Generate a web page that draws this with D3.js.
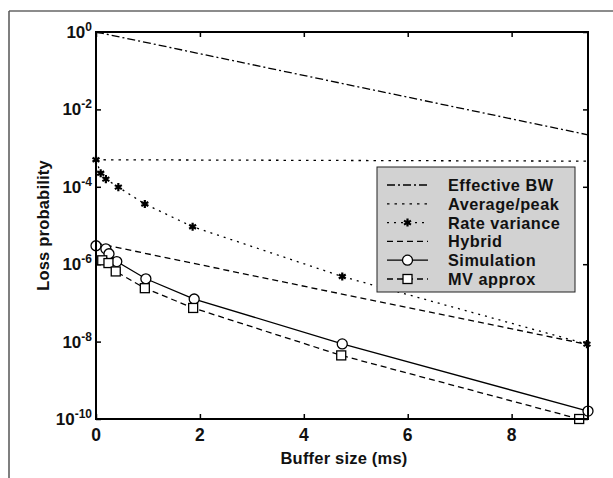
<!DOCTYPE html>
<html>
<head>
<meta charset="utf-8">
<script src="https://cdn.jsdelivr.net/npm/d3@7/dist/d3.min.js"></script>
<style>
  html, body { margin: 0; padding: 0; background: #fff; }
  svg { display: block; }
  text { font-family: "Liberation Sans", Arial, sans-serif; fill: #111; font-weight: bold; }
</style>
</head>
<body>
<svg id="chart" width="613" height="478"></svg>
<script>
// ---- Data ----
const effBwX = [0, 9.47];
const effBwY = [1.0, 2.2e-3];

const avgPeakX = [0, 9.47];
const avgPeakY = [5.0e-4, 4.6e-4];

const rateVarX = [0, 0.09, 0.19, 0.43, 0.94, 1.86, 4.74, 9.45];
const rateVarY = [5.0e-4, 2.24e-4, 1.58e-4, 9.8e-5, 3.6e-5, 9.3e-6, 4.8e-7, 8.6e-9];

const hybridX = [0, 4.12, 9.45];
const hybridY = [3.5e-6, 2.5e-7, 8.5e-9];

const simX = [0, 0.19, 0.25, 0.40, 0.96, 1.89, 4.74, 9.47];
const simY = [3.0e-6, 2.5e-6, 1.86e-6, 1.17e-6, 4.2e-7, 1.26e-7, 8.7e-9, 1.6e-10];

const mvX = [0.12, 0.24, 0.38, 0.94, 1.87, 4.72, 9.3];
const mvY = [1.26e-6, 1.07e-6, 6.5e-7, 2.4e-7, 7.4e-8, 4.4e-9, 1.0e-10];

const xTicks = [0, 2, 4, 6, 8];
const yTickExps = [0, -2, -4, -6, -8, -10];

const legendLabels = ["Effective BW", "Average/peak", "Rate variance", "Hybrid", "Simulation", "MV approx"];

const xLabel = "Buffer size (ms)";
const yLabel = "Loss probability";

// ---- Layout ----
const svg = d3.select("#chart");
const L = 96, R = 588, T = 32, B = 419;

const x = d3.scaleLinear().domain([0, 9.47]).range([L, R]);
const y = d3.scaleLog().domain([1e-10, 1]).range([B, T]);

// outer scan frame (top and left)
svg.append("line").attr("x1", 9).attr("y1", 11).attr("x2", 613).attr("y2", 11)
  .attr("stroke", "#666").attr("stroke-width", 1.5);
svg.append("line").attr("x1", 9).attr("y1", 11).attr("x2", 9).attr("y2", 478)
  .attr("stroke", "#555").attr("stroke-width", 1.5);

// axes with inward ticks
const yTickVals = yTickExps.map(e => Math.pow(10, e));
svg.append("g").attr("transform", `translate(${L},0)`)
  .call(d3.axisRight(y).tickValues(yTickVals).tickSize(5).tickFormat(""))
  .call(g => g.select(".domain").remove());
svg.append("g").attr("transform", `translate(${R},0)`)
  .call(d3.axisLeft(y).tickValues(yTickVals).tickSize(5).tickFormat(""))
  .call(g => g.select(".domain").remove());
svg.append("g").attr("transform", `translate(0,${B})`)
  .call(d3.axisTop(x).tickValues(xTicks).tickSize(5).tickFormat(""))
  .call(g => g.select(".domain").remove());
svg.append("g").attr("transform", `translate(0,${T})`)
  .call(d3.axisBottom(x).tickValues(xTicks).tickSize(5).tickFormat(""))
  .call(g => g.select(".domain").remove());
svg.selectAll(".tick line").attr("stroke", "#000").attr("stroke-width", 1.5);

// tick labels
const yl = svg.append("g");
yTickExps.forEach(e => {
  const t = yl.append("text")
    .attr("x", 92).attr("y", y(Math.pow(10, e)) + 6)
    .attr("text-anchor", "end")
    .style("font-size", "17px");
  t.append("tspan").text("10");
  t.append("tspan").attr("dy", -7).style("font-size", "12px").text(e === 0 ? "0" : "-" + (-e));
});
svg.append("g").selectAll("text").data(xTicks).join("text")
  .attr("x", d => x(d)).attr("y", B + 22)
  .attr("text-anchor", "middle")
  .style("font-size", "17.5px")
  .text(d => d);

// axis titles
svg.append("text").attr("x", 344).attr("y", 464)
  .attr("text-anchor", "middle")
  .style("font-size", "16.5px").style("letter-spacing", "0.2px")
  .text(xLabel);
svg.append("text")
  .attr("transform", `translate(49,${(T + B) / 2}) rotate(-90)`)
  .attr("text-anchor", "middle")
  .style("font-size", "16.5px").style("letter-spacing", "0.2px")
  .text(yLabel);

// ---- Series ----
const line = d3.line().x(d => x(d[0])).y(d => y(d[1]));
const zip = (a, b) => a.map((v, i) => [v, b[i]]);

const series = [
  { xs: effBwX, ys: effBwY, dash: "8,3,2,3", marker: null },
  { xs: avgPeakX, ys: avgPeakY, dash: "2.5,5", marker: null },
  { xs: rateVarX, ys: rateVarY, dash: "2,5", marker: "star" },
  { xs: hybridX, ys: hybridY, dash: "6,4", marker: null },
  { xs: simX, ys: simY, dash: null, marker: "circle" },
  { xs: mvX, ys: mvY, dash: "6,4", marker: "square" }
];

const plot = svg.append("g");
function drawMarker(g, type, cx, cy) {
  if (type === "circle") {
    g.append("circle").attr("cx", cx).attr("cy", cy).attr("r", 5)
      .attr("fill", "#fff").attr("stroke", "#000").attr("stroke-width", 1.3);
  } else if (type === "square") {
    g.append("rect").attr("x", cx - 4.5).attr("y", cy - 4.5).attr("width", 9).attr("height", 9)
      .attr("fill", "#fff").attr("stroke", "#000").attr("stroke-width", 1.3);
  } else if (type === "star") {
    g.append("path").attr("transform", `translate(${cx},${cy})`)
      .attr("d", d3.symbol(d3.symbolAsterisk, 45)())
      .attr("fill", "none").attr("stroke", "#000").attr("stroke-width", 2.2);
  }
}
series.forEach(s => {
  const pts = zip(s.xs, s.ys);
  plot.append("path").datum(pts).attr("d", line)
    .attr("fill", "none").attr("stroke", "#000").attr("stroke-width", 1.3)
    .attr("stroke-dasharray", s.dash);
  if (s.marker) pts.forEach(p => drawMarker(plot, s.marker, x(p[0]), y(p[1])));
});

// plot frame
svg.append("rect").attr("x", L).attr("y", T).attr("width", R - L).attr("height", B - T)
  .attr("fill", "none").attr("stroke", "#000").attr("stroke-width", 2);

// ---- Legend ----
const lg = svg.append("g");
lg.append("rect").attr("x", 377).attr("y", 167).attr("width", 198).attr("height", 125)
  .attr("fill", "#d2d2d2").attr("stroke", "#222").attr("stroke-width", 1);
legendLabels.forEach((lab, i) => {
  const cy = 185 + i * 18.8;
  const s = series[i];
  lg.append("line").attr("x1", 387).attr("x2", 428).attr("y1", cy).attr("y2", cy)
    .attr("stroke", "#000").attr("stroke-width", 1.3).attr("stroke-dasharray", s.dash);
  if (s.marker) drawMarker(lg, s.marker, 407.5, cy);
  lg.append("text").attr("x", 448).attr("y", cy + 6)
    .style("font-size", "16.3px").style("letter-spacing", "0.5px")
    .text(lab);
});
</script>
</body>
</html>
